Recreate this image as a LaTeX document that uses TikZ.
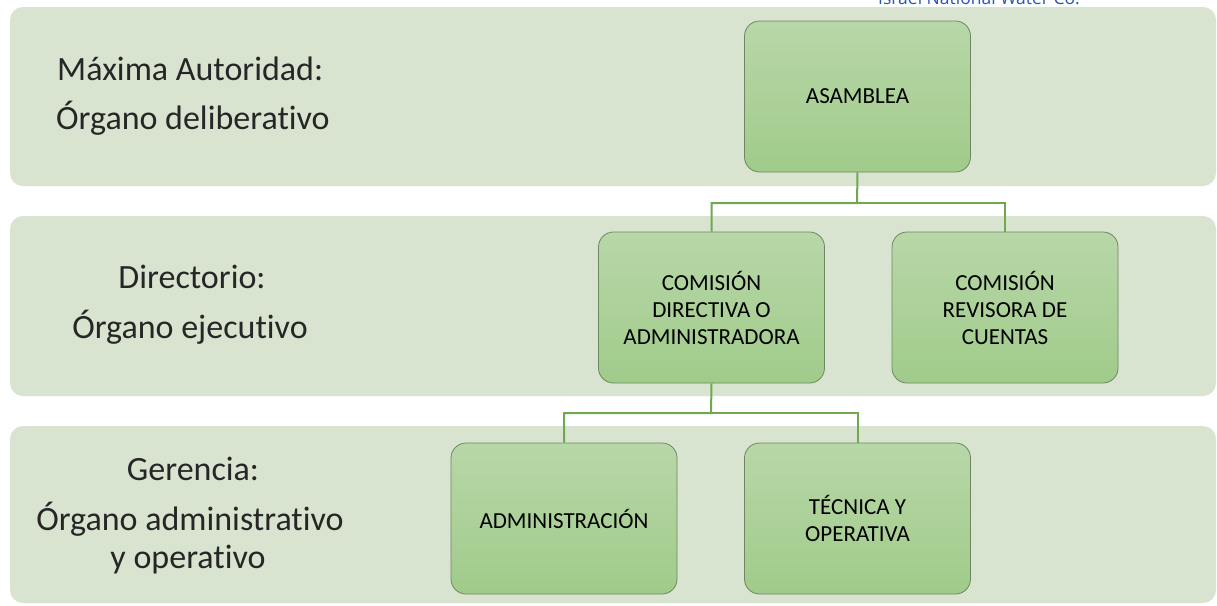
\documentclass[tikz,border=0pt]{standalone}
\usepackage{fontspec}
\setmainfont[Ligatures=NoCommon]{Carlito}
\newfontfamily\headfont{Open Sans}
\usetikzlibrary{calc}
\definecolor{bandbg}{RGB}{216,228,208}
\definecolor{boxtop}{RGB}{184,215,168}
\definecolor{boxbot}{RGB}{160,203,138}
\definecolor{boxline}{RGB}{110,135,98}
\definecolor{linkc}{RGB}{112,168,80}
\definecolor{headblue}{RGB}{40,85,185}
\tikzset{
  band/.style={fill=bandbg, draw=none, rounded corners=13pt},
  orgbox/.style={draw=boxline, line width=0.8pt, rounded corners=15pt,
    top color=boxtop, bottom color=boxbot, minimum width=226pt, minimum height=151pt,
    align=center, inner sep=0pt, font=\fontsize{23}{27}\selectfont, text=black},
  link/.style={draw=linkc, line width=2pt},
  lefttext/.style={anchor=base, font=\fontsize{34}{40}\selectfont, text=black!85, inner sep=0pt},
}
\begin{document}
\begin{tikzpicture}[x=1pt,y=-1pt]
\useasboundingbox (0,0) rectangle (1217,605);
\fill[white] (0,0) rectangle (1217,605);
% bands
\path[band] (10,7) rectangle (1216,186);
\path[band] (10,216) rectangle (1216,396);
\path[band] (10,426) rectangle (1216,603);
% header text, cut by the top edge as in the reference
\node[anchor=base, font=\headfont\fontsize{17.5}{20}\selectfont, text=headblue, inner sep=0pt] (hdr) at (979,5) {Israel National Water Co.};
% left texts
\node[lefttext, anchor=base west] (t1a) at (57,80) {Máxima Autoridad:};
\node[lefttext, anchor=base west] (t1b) at (56,129) {Órgano deliberativo};
\node[lefttext] (t2a) at (192,288) {Directorio:};
\node[lefttext] (t2b) at (190,338) {Órgano ejecutivo};
\node[lefttext] (t3a) at (193,480) {Gerencia:};
\node[lefttext] (t3b) at (190,530) {Órgano administrativo};
\node[lefttext] (t3c) at (188,568) {y operativo};
% junctions
\coordinate (j1) at (857,203);
\coordinate (j2) at (711,413);
% boxes
\node[orgbox] (asam) at (857.5,96.5) {ASAMBLEA};
\node[orgbox] (cda) at (711.5,307.5) {COMISIÓN\\DIRECTIVA O\\ADMINISTRADORA};
\node[orgbox] (crc) at (1005,307.5) {COMISIÓN\\REVISORA DE\\CUENTAS};
\node[orgbox] (adm) at (564,518.5) {ADMINISTRACIÓN};
\node[orgbox] (tec) at (857.5,518.5) {TÉCNICA Y\\OPERATIVA};
\draw[link] (asam.south) -- (j1) -| (cda.north);
\draw[link] (j1) -| (crc.north);
\draw[link] (cda.south) -- (j2) -| (adm.north);
\draw[link] (j2) -| (tec.north);
\end{tikzpicture}
\end{document}
